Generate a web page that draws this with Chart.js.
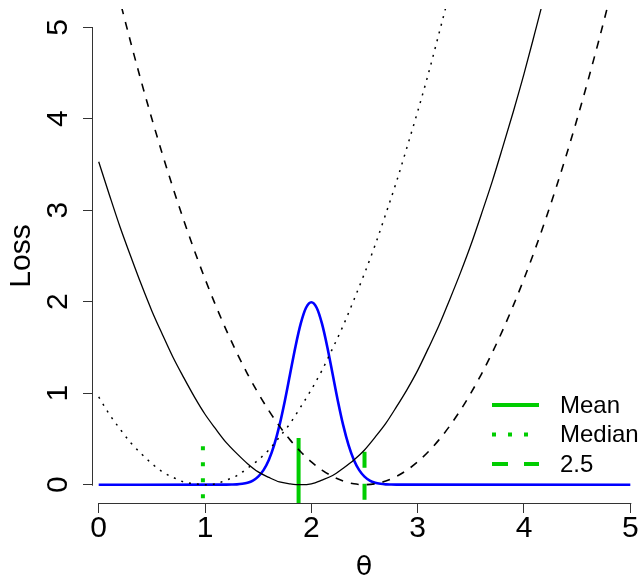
<!DOCTYPE html>
<html>
<head>
<meta charset="utf-8">
<script src="https://cdn.jsdelivr.net/npm/chart.js@4/dist/chart.umd.min.js"></script>
<style>
  body { margin: 0; background: #fff; }
  #wrap { width: 643px; height: 581px; }
</style>
</head>
<body>
<div id="wrap"><canvas id="lossChart" width="643" height="581"></canvas></div>
<script>
// theta grid used for the three loss curves
const theta = [0, 0.1, 0.2, 0.3, 0.4, 0.5, 0.6, 0.7, 0.8, 0.9,
               1.0, 1.1, 1.2, 1.3, 1.4, 1.5, 1.6, 1.7, 1.8, 1.9,
               2.0, 2.1, 2.2, 2.3, 2.4, 2.5, 2.6, 2.7, 2.8, 2.9,
               3.0, 3.1, 3.2, 3.3, 3.4, 3.5, 3.6, 3.7, 3.8, 3.9,
               4.0, 4.1, 4.2, 4.3, 4.4, 4.5, 4.6, 4.7, 4.8, 4.9, 5.0]

// solid black loss (minimum near the mean)
const lossMean = [3.53, 3.17, 2.82, 2.50, 2.19, 1.90, 1.64, 1.39, 1.17, 0.96,
                  0.77, 0.61, 0.46, 0.34, 0.23, 0.14, 0.08, 0.03, 0.01, 0.00,
                  0.01, 0.05, 0.10, 0.18, 0.27, 0.38, 0.52, 0.67, 0.85, 1.04,
                  1.25, 1.49, 1.74, 2.02, 2.31, 2.62, 2.96, 3.31, 3.69, 4.08,
                  4.49, 4.93, 5.38, 5.86, 6.35, 6.86, 7.40, 7.95, 8.53, 9.12, 9.73]

// dotted black loss (minimum near the median)
const lossMedian = [0.96, 0.77, 0.61, 0.46, 0.34, 0.23, 0.14, 0.08, 0.03, 0.01,
                    0.00, 0.01, 0.05, 0.10, 0.18, 0.27, 0.38, 0.52, 0.67, 0.85,
                    1.04, 1.25, 1.49, 1.74, 2.02, 2.31, 2.62, 2.96, 3.31, 3.69,
                    4.08, 4.49, 4.93, 5.38, 5.86, 6.35, 6.86, 7.40, 7.95, 8.53,
                    9.12, 9.73, 10.37, 11.02, 11.70, 12.39, 13.10, 13.84, 14.59, 15.37, 16.16]

// dashed black loss (minimum at 2.5)
const lossFixed = [6.25, 5.76, 5.29, 4.84, 4.41, 4.00, 3.61, 3.24, 2.89, 2.56,
                   2.25, 1.96, 1.69, 1.44, 1.21, 1.00, 0.81, 0.64, 0.49, 0.36,
                   0.25, 0.16, 0.09, 0.04, 0.01, 0.00, 0.01, 0.04, 0.09, 0.16,
                   0.25, 0.36, 0.49, 0.64, 0.81, 1.00, 1.21, 1.44, 1.69, 1.96,
                   2.25, 2.56, 2.89, 3.24, 3.61, 4.00, 4.41, 4.84, 5.29, 5.76, 6.25]

// blue posterior density
const densTheta = [0, 1.2, 1.25, 1.3, 1.35, 1.4, 1.45, 1.5, 1.55, 1.6, 1.65, 1.7, 1.75, 1.8, 1.85, 1.9, 1.95,
                   2.0, 2.05, 2.1, 2.15, 2.2, 2.25, 2.3, 2.35, 2.4, 2.45, 2.5, 2.55, 2.6, 2.65, 2.7, 2.75, 2.8, 5]
const densValue = [0, 0.001, 0.002, 0.004, 0.010, 0.022, 0.045, 0.088, 0.159, 0.270, 0.432, 0.648, 0.913, 1.210, 1.506, 1.760, 1.934,
                   1.995, 1.934, 1.760, 1.506, 1.210, 0.913, 0.648, 0.432, 0.270, 0.159, 0.088, 0.045, 0.022, 0.010, 0.004, 0.002, 0.001, 0]

// green markers: position, top and bottom of each vertical segment
const markerNames = ['Mean', 'Median', '2.5']
const markerPos = [1.88, 0.98, 2.5]
const markerTop = [0.51, 0.42, 0.36]
const markerBottom = [-0.2, -0.2, -0.2]
const markerDash = [[], [4, 12], [16, 16]]

const xTicks = [0, 1, 2, 3, 4, 5]
const yTicks = [0, 1, 2, 3, 4, 5]

const GREEN = '#00cd00'
const AXIS = '#333'
const FONT = "'Liberation Sans', Arial, sans-serif"

const pts = (xs, ys) => xs.map((x, i) => ({ x: x, y: ys[i] }))

const datasets = [
    { data: pts(theta, lossMean), borderColor: '#000', borderWidth: 1.3 },
    { data: pts(theta, lossMedian), borderColor: '#000', borderWidth: 1.5, borderDash: [2, 6] },
    { data: pts(theta, lossFixed), borderColor: '#000', borderWidth: 1.6, borderDash: [8, 8] },
    { data: pts(densTheta, densValue), borderColor: '#0000ff', borderWidth: 2.6 }
]
markerNames.forEach((name, i) => {
    datasets.push({
        label: name,
        data: [{ x: markerPos[i], y: markerTop[i] }, { x: markerPos[i], y: markerBottom[i] }],
        borderColor: GREEN, borderWidth: 4, borderDash: markerDash[i], tension: 0
    })
})
datasets.forEach(d => {
    d.pointRadius = 0
    d.fill = false
    if (d.tension === undefined) d.cubicInterpolationMode = 'monotone'
})

// R-style axis lines (only between first and last tick), rotated y labels and legend
const rStyle = {
    id: 'rStyle',
    afterDraw(chart) {
        const { ctx, chartArea, scales: { x, y } } = chart
        ctx.save()
        ctx.strokeStyle = AXIS
        ctx.lineWidth = 1
        ctx.beginPath()
        ctx.moveTo(x.getPixelForValue(xTicks[0]), chartArea.bottom + 0.5)
        ctx.lineTo(x.getPixelForValue(xTicks[xTicks.length - 1]) + 1, chartArea.bottom + 0.5)
        ctx.moveTo(chartArea.left - 0.5, y.getPixelForValue(yTicks[0]) + 1)
        ctx.lineTo(chartArea.left - 0.5, y.getPixelForValue(yTicks[yTicks.length - 1]))
        ctx.stroke()

        ctx.fillStyle = '#000'
        ctx.font = '30px ' + FONT
        ctx.textAlign = 'center'
        ctx.textBaseline = 'middle'
        yTicks.forEach(v => {
            ctx.save()
            ctx.translate(chartArea.left - 34, y.getPixelForValue(v))
            ctx.rotate(-Math.PI / 2)
            ctx.fillText(String(v), 0, 0)
            ctx.restore()
        })

        // legend
        const x0 = chartArea.right - 143, x1 = chartArea.right - 96
        const rows = [chartArea.bottom - 98, chartArea.bottom - 68.5, chartArea.bottom - 39]
        ctx.font = '24px ' + FONT
        ctx.textAlign = 'left'
        markerNames.forEach((name, i) => {
            ctx.strokeStyle = GREEN
            ctx.lineWidth = 4
            ctx.setLineDash(markerDash[i])
            ctx.beginPath()
            ctx.moveTo(x0, rows[i])
            ctx.lineTo(x1, rows[i])
            ctx.stroke()
            ctx.setLineDash([])
            ctx.fillText(name, chartArea.right - 75, rows[i] + 1)
        })
        ctx.restore()
    }
}

new Chart(document.getElementById('lossChart').getContext('2d'), {
    type: 'line',
    data: { datasets: datasets },
    options: {
        responsive: false,
        animation: false,
        layout: { padding: { top: 9, right: 8, left: 0, bottom: 0 } },
        plugins: { legend: { display: false }, tooltip: { enabled: false } },
        scales: {
            x: {
                type: 'linear',
                min: -0.0536,
                max: 5.044,
                afterBuildTicks: s => { s.ticks = xTicks.map(v => ({ value: v })) },
                afterFit: s => { s.height = 78 },
                border: { display: false },
                grid: { drawOnChartArea: false, drawTicks: true, tickLength: 10, color: AXIS },
                ticks: { color: '#000', padding: 1, maxRotation: 0, font: { family: FONT, size: 30, lineHeight: 1 } },
                title: { display: true, text: 'θ', color: '#000', padding: { top: 0, bottom: 0 },
                         font: { family: "'DejaVu Sans', sans-serif", size: 27, lineHeight: 1 } }
            },
            y: {
                type: 'linear',
                min: -0.2,
                max: 5.2,
                afterBuildTicks: s => { s.ticks = yTicks.map(v => ({ value: v })) },
                afterFit: s => { s.width = 93 },
                border: { display: false },
                grid: { drawOnChartArea: false, drawTicks: true, tickLength: 10, color: AXIS },
                ticks: { display: false },
                title: { display: true, text: 'Loss', color: '#000', padding: { top: 7, bottom: 0 },
                         font: { family: FONT, size: 30, lineHeight: 1 } }
            }
        }
    },
    plugins: [rStyle]
})
</script>
</body>
</html>
